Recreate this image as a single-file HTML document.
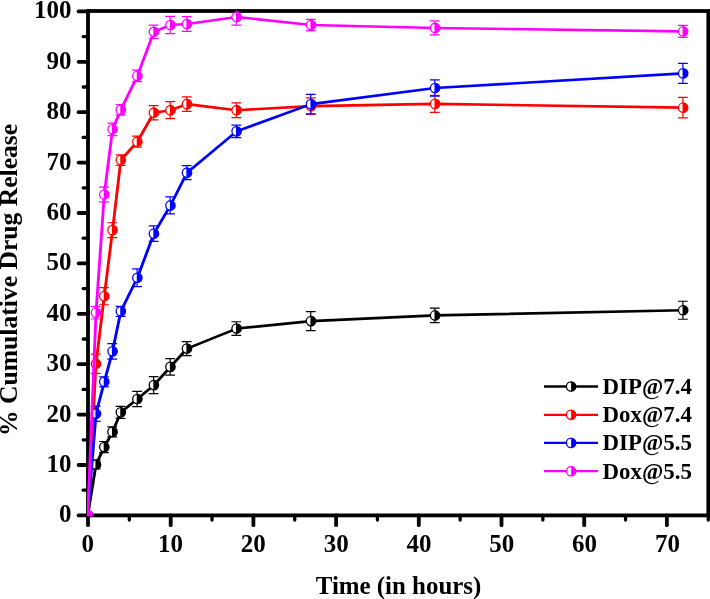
<!DOCTYPE html>
<html lang="en"><head><meta charset="utf-8"><title>Cumulative Drug Release</title>
<style>html,body{margin:0;padding:0;background:#fff}body{width:710px;height:599px;overflow:hidden}svg{display:block}text{font-family:'Liberation Serif','Times New Roman',serif;font-weight:bold;fill:#000}</style></head><body>
<svg width="710" height="599" viewBox="0 0 710 599">
<rect width="710" height="599" fill="#fff"/>
<defs><clipPath id="c"><rect x="87" y="10.5" width="622" height="505.7"/></clipPath></defs>
<g stroke="#000" stroke-width="3.8" fill="none" stroke-linecap="butt">
<rect x="88" y="11" width="620.3" height="504.4"/>
</g>
<g stroke="#000" stroke-width="3.8" stroke-linecap="round">
<line x1="78.6" y1="515.40" x2="88" y2="515.40"/>
<line x1="83.2" y1="490.20" x2="88" y2="490.20" stroke-width="3.3"/>
<line x1="78.6" y1="465.00" x2="88" y2="465.00"/>
<line x1="83.2" y1="439.80" x2="88" y2="439.80" stroke-width="3.3"/>
<line x1="78.6" y1="414.60" x2="88" y2="414.60"/>
<line x1="83.2" y1="389.40" x2="88" y2="389.40" stroke-width="3.3"/>
<line x1="78.6" y1="364.20" x2="88" y2="364.20"/>
<line x1="83.2" y1="339.00" x2="88" y2="339.00" stroke-width="3.3"/>
<line x1="78.6" y1="313.80" x2="88" y2="313.80"/>
<line x1="83.2" y1="288.60" x2="88" y2="288.60" stroke-width="3.3"/>
<line x1="78.6" y1="263.40" x2="88" y2="263.40"/>
<line x1="83.2" y1="238.20" x2="88" y2="238.20" stroke-width="3.3"/>
<line x1="78.6" y1="213.00" x2="88" y2="213.00"/>
<line x1="83.2" y1="187.80" x2="88" y2="187.80" stroke-width="3.3"/>
<line x1="78.6" y1="162.60" x2="88" y2="162.60"/>
<line x1="83.2" y1="137.40" x2="88" y2="137.40" stroke-width="3.3"/>
<line x1="78.6" y1="112.20" x2="88" y2="112.20"/>
<line x1="83.2" y1="87.00" x2="88" y2="87.00" stroke-width="3.3"/>
<line x1="78.6" y1="61.80" x2="88" y2="61.80"/>
<line x1="83.2" y1="36.60" x2="88" y2="36.60" stroke-width="3.3"/>
<line x1="78.6" y1="11.40" x2="88" y2="11.40"/>
<line x1="88.00" y1="515.4" x2="88.00" y2="525.2"/>
<line x1="129.35" y1="515.4" x2="129.35" y2="520.1" stroke-width="3.3"/>
<line x1="170.70" y1="515.4" x2="170.70" y2="525.2"/>
<line x1="212.05" y1="515.4" x2="212.05" y2="520.1" stroke-width="3.3"/>
<line x1="253.40" y1="515.4" x2="253.40" y2="525.2"/>
<line x1="294.75" y1="515.4" x2="294.75" y2="520.1" stroke-width="3.3"/>
<line x1="336.10" y1="515.4" x2="336.10" y2="525.2"/>
<line x1="377.45" y1="515.4" x2="377.45" y2="520.1" stroke-width="3.3"/>
<line x1="418.80" y1="515.4" x2="418.80" y2="525.2"/>
<line x1="460.15" y1="515.4" x2="460.15" y2="520.1" stroke-width="3.3"/>
<line x1="501.50" y1="515.4" x2="501.50" y2="525.2"/>
<line x1="542.85" y1="515.4" x2="542.85" y2="520.1" stroke-width="3.3"/>
<line x1="584.20" y1="515.4" x2="584.20" y2="525.2"/>
<line x1="625.55" y1="515.4" x2="625.55" y2="520.1" stroke-width="3.3"/>
<line x1="666.90" y1="515.4" x2="666.90" y2="525.2"/>
<line x1="708.25" y1="515.4" x2="708.25" y2="520.1" stroke-width="3.3"/>
</g>
<g font-size="25px">
<text x="71.5" y="522.30" text-anchor="end">0</text>
<text x="71.5" y="471.90" text-anchor="end">10</text>
<text x="71.5" y="421.50" text-anchor="end">20</text>
<text x="71.5" y="371.10" text-anchor="end">30</text>
<text x="71.5" y="320.70" text-anchor="end">40</text>
<text x="71.5" y="270.30" text-anchor="end">50</text>
<text x="71.5" y="219.90" text-anchor="end">60</text>
<text x="71.5" y="169.50" text-anchor="end">70</text>
<text x="71.5" y="119.10" text-anchor="end">80</text>
<text x="71.5" y="68.70" text-anchor="end">90</text>
<text x="71.5" y="18.30" text-anchor="end">100</text>
<text x="87.70" y="551.5" text-anchor="middle">0</text>
<text x="170.51" y="551.5" text-anchor="middle">10</text>
<text x="253.33" y="551.5" text-anchor="middle">20</text>
<text x="336.14" y="551.5" text-anchor="middle">30</text>
<text x="418.96" y="551.5" text-anchor="middle">40</text>
<text x="501.77" y="551.5" text-anchor="middle">50</text>
<text x="584.59" y="551.5" text-anchor="middle">60</text>
<text x="667.40" y="551.5" text-anchor="middle">70</text>
</g>
<text x="398.5" y="594.2" font-size="24.9px" text-anchor="middle">Time (in hours)</text>
<text transform="translate(17.2 279.9) rotate(-90)" font-size="25.6px" text-anchor="middle">% Cumulative Drug Release</text>
<g clip-path="url(#c)">
<polyline transform="scale(1.100 1)" points="79.77,515.40 87.29,464.50 94.81,447.11 102.33,431.89 109.85,412.33 124.88,398.98 139.92,385.12 154.95,366.87 169.99,348.58 215.10,328.57 282.76,321.11 395.54,315.41 621.08,310.27" fill="none" stroke="#000000" stroke-width="2.60" stroke-linejoin="round"/>
<g stroke="#000000" stroke-width="1.20">
<path d="M95.72 460.10V468.90M90.82 460.10H100.62M90.82 468.90H100.62" fill="none"/>
<path d="M103.99 441.51V452.71M99.09 441.51H108.89M99.09 452.71H108.89" fill="none"/>
<path d="M112.26 426.89V436.89M107.36 426.89H117.16M107.36 436.89H117.16" fill="none"/>
<path d="M120.53 406.33V418.33M115.63 406.33H125.43M115.63 418.33H125.43" fill="none"/>
<path d="M137.07 391.28V406.68M132.17 391.28H141.97M132.17 406.68H141.97" fill="none"/>
<path d="M153.61 376.62V393.62M148.71 376.62H158.51M148.71 393.62H158.51" fill="none"/>
<path d="M170.15 358.67V375.07M165.25 358.67H175.05M165.25 375.07H175.05" fill="none"/>
<path d="M186.69 341.58V355.58M181.79 341.58H191.59M181.79 355.58H191.59" fill="none"/>
<path d="M236.31 321.77V335.37M231.41 321.77H241.21M231.41 335.37H241.21" fill="none"/>
<path d="M310.74 311.61V330.61M305.84 311.61H315.64M305.84 330.61H315.64" fill="none"/>
<path d="M434.79 308.11V322.71M429.89 308.11H439.69M429.89 322.71H439.69" fill="none"/>
<path d="M682.89 301.27V319.27M677.99 301.27H687.79M677.99 319.27H687.79" fill="none"/>
</g>
<circle cx="87.75" cy="515.40" r="5.35" fill="#000000"/>
<circle cx="96.02" cy="464.50" r="4.70" fill="#fff" stroke="#000000" stroke-width="1.30"/><path d="M95.42 459.83A4.70 4.70 0 1 1 95.42 469.16Z" fill="#000000"/>
<circle cx="104.29" cy="447.11" r="4.70" fill="#fff" stroke="#000000" stroke-width="1.30"/><path d="M103.69 442.45A4.70 4.70 0 1 1 103.69 451.77Z" fill="#000000"/>
<circle cx="112.56" cy="431.89" r="4.70" fill="#fff" stroke="#000000" stroke-width="1.30"/><path d="M111.96 427.23A4.70 4.70 0 1 1 111.96 436.55Z" fill="#000000"/>
<circle cx="120.83" cy="412.33" r="4.70" fill="#fff" stroke="#000000" stroke-width="1.30"/><path d="M120.23 407.67A4.70 4.70 0 1 1 120.23 416.99Z" fill="#000000"/>
<circle cx="137.37" cy="398.98" r="4.70" fill="#fff" stroke="#000000" stroke-width="1.30"/><path d="M136.77 394.31A4.70 4.70 0 1 1 136.77 403.64Z" fill="#000000"/>
<circle cx="153.91" cy="385.12" r="4.70" fill="#fff" stroke="#000000" stroke-width="1.30"/><path d="M153.31 380.45A4.70 4.70 0 1 1 153.31 389.78Z" fill="#000000"/>
<circle cx="170.45" cy="366.87" r="4.70" fill="#fff" stroke="#000000" stroke-width="1.30"/><path d="M169.85 362.21A4.70 4.70 0 1 1 169.85 371.53Z" fill="#000000"/>
<circle cx="186.99" cy="348.58" r="4.70" fill="#fff" stroke="#000000" stroke-width="1.30"/><path d="M186.39 343.91A4.70 4.70 0 1 1 186.39 353.24Z" fill="#000000"/>
<circle cx="236.61" cy="328.57" r="4.70" fill="#fff" stroke="#000000" stroke-width="1.30"/><path d="M236.01 323.91A4.70 4.70 0 1 1 236.01 333.23Z" fill="#000000"/>
<circle cx="311.04" cy="321.11" r="4.70" fill="#fff" stroke="#000000" stroke-width="1.30"/><path d="M310.44 316.45A4.70 4.70 0 1 1 310.44 325.77Z" fill="#000000"/>
<circle cx="435.09" cy="315.41" r="4.70" fill="#fff" stroke="#000000" stroke-width="1.30"/><path d="M434.49 310.75A4.70 4.70 0 1 1 434.49 320.07Z" fill="#000000"/>
<circle cx="683.19" cy="310.27" r="4.70" fill="#fff" stroke="#000000" stroke-width="1.30"/><path d="M682.59 305.61A4.70 4.70 0 1 1 682.59 314.93Z" fill="#000000"/>
<polyline transform="scale(1.100 1)" points="79.77,515.40 87.29,363.70 94.81,296.16 102.33,230.14 109.85,160.08 124.88,141.68 139.92,112.70 154.95,110.18 169.99,104.14 215.10,110.18 282.76,106.15 395.54,103.88 621.08,107.66" fill="none" stroke="#FF0000" stroke-width="2.60" stroke-linejoin="round"/>
<g stroke="#FF0000" stroke-width="1.20">
<path d="M95.72 354.10V373.30M90.82 354.10H100.62M90.82 373.30H100.62" fill="none"/>
<path d="M103.99 287.56V304.76M99.09 287.56H108.89M99.09 304.76H108.89" fill="none"/>
<path d="M112.26 222.74V237.54M107.36 222.74H117.16M107.36 237.54H117.16" fill="none"/>
<path d="M120.53 154.78V165.38M115.63 154.78H125.43M115.63 165.38H125.43" fill="none"/>
<path d="M137.07 136.18V147.18M132.17 136.18H141.97M132.17 147.18H141.97" fill="none"/>
<path d="M153.61 105.60V119.80M148.71 105.60H158.51M148.71 119.80H158.51" fill="none"/>
<path d="M170.15 101.68V118.68M165.25 101.68H175.05M165.25 118.68H175.05" fill="none"/>
<path d="M186.69 96.94V111.34M181.79 96.94H191.59M181.79 111.34H191.59" fill="none"/>
<path d="M236.31 102.78V117.58M231.41 102.78H241.21M231.41 117.58H241.21" fill="none"/>
<path d="M310.74 97.95V114.35M305.84 97.95H315.64M305.84 114.35H315.64" fill="none"/>
<path d="M434.79 95.38V112.38M429.89 95.38H439.69M429.89 112.38H439.69" fill="none"/>
<path d="M682.89 97.36V117.96M677.99 97.36H687.79M677.99 117.96H687.79" fill="none"/>
</g>
<circle cx="87.75" cy="515.40" r="5.35" fill="#FF0000"/>
<circle cx="96.02" cy="363.70" r="4.70" fill="#fff" stroke="#FF0000" stroke-width="1.30"/><path d="M95.42 359.03A4.70 4.70 0 1 1 95.42 368.36Z" fill="#FF0000"/>
<circle cx="104.29" cy="296.16" r="4.70" fill="#fff" stroke="#FF0000" stroke-width="1.30"/><path d="M103.69 291.50A4.70 4.70 0 1 1 103.69 300.82Z" fill="#FF0000"/>
<circle cx="112.56" cy="230.14" r="4.70" fill="#fff" stroke="#FF0000" stroke-width="1.30"/><path d="M111.96 225.47A4.70 4.70 0 1 1 111.96 234.80Z" fill="#FF0000"/>
<circle cx="120.83" cy="160.08" r="4.70" fill="#fff" stroke="#FF0000" stroke-width="1.30"/><path d="M120.23 155.42A4.70 4.70 0 1 1 120.23 164.74Z" fill="#FF0000"/>
<circle cx="137.37" cy="141.68" r="4.70" fill="#fff" stroke="#FF0000" stroke-width="1.30"/><path d="M136.77 137.02A4.70 4.70 0 1 1 136.77 146.35Z" fill="#FF0000"/>
<circle cx="153.91" cy="112.70" r="4.70" fill="#fff" stroke="#FF0000" stroke-width="1.30"/><path d="M153.31 108.04A4.70 4.70 0 1 1 153.31 117.37Z" fill="#FF0000"/>
<circle cx="170.45" cy="110.18" r="4.70" fill="#fff" stroke="#FF0000" stroke-width="1.30"/><path d="M169.85 105.52A4.70 4.70 0 1 1 169.85 114.85Z" fill="#FF0000"/>
<circle cx="186.99" cy="104.14" r="4.70" fill="#fff" stroke="#FF0000" stroke-width="1.30"/><path d="M186.39 99.47A4.70 4.70 0 1 1 186.39 108.80Z" fill="#FF0000"/>
<circle cx="236.61" cy="110.18" r="4.70" fill="#fff" stroke="#FF0000" stroke-width="1.30"/><path d="M236.01 105.52A4.70 4.70 0 1 1 236.01 114.85Z" fill="#FF0000"/>
<circle cx="311.04" cy="106.15" r="4.70" fill="#fff" stroke="#FF0000" stroke-width="1.30"/><path d="M310.44 101.49A4.70 4.70 0 1 1 310.44 110.81Z" fill="#FF0000"/>
<circle cx="435.09" cy="103.88" r="4.70" fill="#fff" stroke="#FF0000" stroke-width="1.30"/><path d="M434.49 99.22A4.70 4.70 0 1 1 434.49 108.55Z" fill="#FF0000"/>
<circle cx="683.19" cy="107.66" r="4.70" fill="#fff" stroke="#FF0000" stroke-width="1.30"/><path d="M682.59 103.00A4.70 4.70 0 1 1 682.59 112.33Z" fill="#FF0000"/>
<polyline transform="scale(1.100 1)" points="79.77,515.40 87.29,413.79 94.81,381.84 102.33,351.35 109.85,311.28 124.88,277.76 139.92,233.66 154.95,205.44 169.99,172.68 215.10,131.35 282.76,104.14 395.54,88.01 621.08,73.39" fill="none" stroke="#0000FF" stroke-width="2.60" stroke-linejoin="round"/>
<g stroke="#0000FF" stroke-width="1.20">
<path d="M95.72 406.19V421.39M90.82 406.19H100.62M90.82 421.39H100.62" fill="none"/>
<path d="M103.99 376.84V386.84M99.09 376.84H108.89M99.09 386.84H108.89" fill="none"/>
<path d="M112.26 343.55V359.15M107.36 343.55H117.16M107.36 359.15H117.16" fill="none"/>
<path d="M120.53 306.28V316.28M115.63 306.28H125.43M115.63 316.28H125.43" fill="none"/>
<path d="M137.07 268.96V286.56M132.17 268.96H141.97M132.17 286.56H141.97" fill="none"/>
<path d="M153.61 225.96V241.36M148.71 225.96H158.51M148.71 241.36H158.51" fill="none"/>
<path d="M170.15 196.94V213.94M165.25 196.94H175.05M165.25 213.94H175.05" fill="none"/>
<path d="M186.69 165.68V179.68M181.79 165.68H191.59M181.79 179.68H191.59" fill="none"/>
<path d="M236.31 125.05V137.65M231.41 125.05H241.21M231.41 137.65H241.21" fill="none"/>
<path d="M310.74 94.34V113.94M305.84 94.34H315.64M305.84 113.94H315.64" fill="none"/>
<path d="M434.79 79.81V96.21M429.89 79.81H439.69M429.89 96.21H439.69" fill="none"/>
<path d="M682.89 63.39V83.39M677.99 63.39H687.79M677.99 83.39H687.79" fill="none"/>
</g>
<circle cx="87.75" cy="515.40" r="5.35" fill="#0000FF"/>
<circle cx="96.02" cy="413.79" r="4.70" fill="#fff" stroke="#0000FF" stroke-width="1.30"/><path d="M95.42 409.13A4.70 4.70 0 1 1 95.42 418.46Z" fill="#0000FF"/>
<circle cx="104.29" cy="381.84" r="4.70" fill="#fff" stroke="#0000FF" stroke-width="1.30"/><path d="M103.69 377.18A4.70 4.70 0 1 1 103.69 386.50Z" fill="#0000FF"/>
<circle cx="112.56" cy="351.35" r="4.70" fill="#fff" stroke="#0000FF" stroke-width="1.30"/><path d="M111.96 346.69A4.70 4.70 0 1 1 111.96 356.01Z" fill="#0000FF"/>
<circle cx="120.83" cy="311.28" r="4.70" fill="#fff" stroke="#0000FF" stroke-width="1.30"/><path d="M120.23 306.62A4.70 4.70 0 1 1 120.23 315.94Z" fill="#0000FF"/>
<circle cx="137.37" cy="277.76" r="4.70" fill="#fff" stroke="#0000FF" stroke-width="1.30"/><path d="M136.77 273.10A4.70 4.70 0 1 1 136.77 282.43Z" fill="#0000FF"/>
<circle cx="153.91" cy="233.66" r="4.70" fill="#fff" stroke="#0000FF" stroke-width="1.30"/><path d="M153.31 229.00A4.70 4.70 0 1 1 153.31 238.33Z" fill="#0000FF"/>
<circle cx="170.45" cy="205.44" r="4.70" fill="#fff" stroke="#0000FF" stroke-width="1.30"/><path d="M169.85 200.78A4.70 4.70 0 1 1 169.85 210.10Z" fill="#0000FF"/>
<circle cx="186.99" cy="172.68" r="4.70" fill="#fff" stroke="#0000FF" stroke-width="1.30"/><path d="M186.39 168.02A4.70 4.70 0 1 1 186.39 177.34Z" fill="#0000FF"/>
<circle cx="236.61" cy="131.35" r="4.70" fill="#fff" stroke="#0000FF" stroke-width="1.30"/><path d="M236.01 126.69A4.70 4.70 0 1 1 236.01 136.01Z" fill="#0000FF"/>
<circle cx="311.04" cy="104.14" r="4.70" fill="#fff" stroke="#0000FF" stroke-width="1.30"/><path d="M310.44 99.47A4.70 4.70 0 1 1 310.44 108.80Z" fill="#0000FF"/>
<circle cx="435.09" cy="88.01" r="4.70" fill="#fff" stroke="#0000FF" stroke-width="1.30"/><path d="M434.49 83.35A4.70 4.70 0 1 1 434.49 92.67Z" fill="#0000FF"/>
<circle cx="683.19" cy="73.39" r="4.70" fill="#fff" stroke="#0000FF" stroke-width="1.30"/><path d="M682.59 68.73A4.70 4.70 0 1 1 682.59 78.05Z" fill="#0000FF"/>
<polyline transform="scale(1.100 1)" points="79.77,515.40 87.29,312.79 94.81,194.50 102.33,129.34 109.85,109.88 124.88,75.91 139.92,31.81 154.95,25.01 169.99,24.00 215.10,16.94 282.76,25.01 395.54,27.93 621.08,31.41" fill="none" stroke="#FF00FF" stroke-width="2.60" stroke-linejoin="round"/>
<g stroke="#FF00FF" stroke-width="1.20">
<path d="M95.72 306.59V318.99M90.82 306.59H100.62M90.82 318.99H100.62" fill="none"/>
<path d="M103.99 187.10V201.90M99.09 187.10H108.89M99.09 201.90H108.89" fill="none"/>
<path d="M112.26 123.14V135.54M107.36 123.14H117.16M107.36 135.54H117.16" fill="none"/>
<path d="M120.53 104.58V115.18M115.63 104.58H125.43M115.63 115.18H125.43" fill="none"/>
<path d="M137.07 70.21V81.61M132.17 70.21H141.97M132.17 81.61H141.97" fill="none"/>
<path d="M153.61 25.11V38.51M148.71 25.11H158.51M148.71 38.51H158.51" fill="none"/>
<path d="M170.15 16.41V33.61M165.25 16.41H175.05M165.25 33.61H175.05" fill="none"/>
<path d="M186.69 16.60V31.40M181.79 16.60H191.59M181.79 31.40H191.59" fill="none"/>
<path d="M236.31 8.84V25.04M231.41 8.84H241.21M231.41 25.04H241.21" fill="none"/>
<path d="M310.74 19.31V30.71M305.84 19.31H315.64M305.84 30.71H315.64" fill="none"/>
<path d="M434.79 20.93V34.93M429.89 20.93H439.69M429.89 34.93H439.69" fill="none"/>
<path d="M682.89 25.41V37.41M677.99 25.41H687.79M677.99 37.41H687.79" fill="none"/>
</g>
<circle cx="87.75" cy="515.40" r="5.35" fill="#FF00FF"/>
<circle cx="96.02" cy="312.79" r="4.70" fill="#fff" stroke="#FF00FF" stroke-width="1.30"/><path d="M95.42 308.13A4.70 4.70 0 1 1 95.42 317.45Z" fill="#FF00FF"/>
<circle cx="104.29" cy="194.50" r="4.70" fill="#fff" stroke="#FF00FF" stroke-width="1.30"/><path d="M103.69 189.84A4.70 4.70 0 1 1 103.69 199.16Z" fill="#FF00FF"/>
<circle cx="112.56" cy="129.34" r="4.70" fill="#fff" stroke="#FF00FF" stroke-width="1.30"/><path d="M111.96 124.67A4.70 4.70 0 1 1 111.96 134.00Z" fill="#FF00FF"/>
<circle cx="120.83" cy="109.88" r="4.70" fill="#fff" stroke="#FF00FF" stroke-width="1.30"/><path d="M120.23 105.22A4.70 4.70 0 1 1 120.23 114.54Z" fill="#FF00FF"/>
<circle cx="137.37" cy="75.91" r="4.70" fill="#fff" stroke="#FF00FF" stroke-width="1.30"/><path d="M136.77 71.25A4.70 4.70 0 1 1 136.77 80.57Z" fill="#FF00FF"/>
<circle cx="153.91" cy="31.81" r="4.70" fill="#fff" stroke="#FF00FF" stroke-width="1.30"/><path d="M153.31 27.15A4.70 4.70 0 1 1 153.31 36.47Z" fill="#FF00FF"/>
<circle cx="170.45" cy="25.01" r="4.70" fill="#fff" stroke="#FF00FF" stroke-width="1.30"/><path d="M169.85 20.35A4.70 4.70 0 1 1 169.85 29.67Z" fill="#FF00FF"/>
<circle cx="186.99" cy="24.00" r="4.70" fill="#fff" stroke="#FF00FF" stroke-width="1.30"/><path d="M186.39 19.34A4.70 4.70 0 1 1 186.39 28.66Z" fill="#FF00FF"/>
<circle cx="236.61" cy="16.94" r="4.70" fill="#fff" stroke="#FF00FF" stroke-width="1.30"/><path d="M236.01 12.28A4.70 4.70 0 1 1 236.01 21.61Z" fill="#FF00FF"/>
<circle cx="311.04" cy="25.01" r="4.70" fill="#fff" stroke="#FF00FF" stroke-width="1.30"/><path d="M310.44 20.35A4.70 4.70 0 1 1 310.44 29.67Z" fill="#FF00FF"/>
<circle cx="435.09" cy="27.93" r="4.70" fill="#fff" stroke="#FF00FF" stroke-width="1.30"/><path d="M434.49 23.27A4.70 4.70 0 1 1 434.49 32.59Z" fill="#FF00FF"/>
<circle cx="683.19" cy="31.41" r="4.70" fill="#fff" stroke="#FF00FF" stroke-width="1.30"/><path d="M682.59 26.75A4.70 4.70 0 1 1 682.59 36.07Z" fill="#FF00FF"/>
</g>
<line x1="544" y1="386.50" x2="598" y2="386.50" stroke="#000000" stroke-width="2.3"/>
<circle cx="571.10" cy="386.50" r="4.70" fill="#fff" stroke="#000000" stroke-width="1.30"/><path d="M571.10 381.80A4.70 4.70 0 1 1 571.10 391.20Z" fill="#000000"/>
<text x="602.6" y="393.80" font-size="22.9px">DIP@7.4</text>
<line x1="544" y1="414.80" x2="598" y2="414.80" stroke="#FF0000" stroke-width="2.3"/>
<circle cx="571.10" cy="414.80" r="4.70" fill="#fff" stroke="#FF0000" stroke-width="1.30"/><path d="M571.10 410.10A4.70 4.70 0 1 1 571.10 419.50Z" fill="#FF0000"/>
<text x="602.6" y="422.10" font-size="22.9px">Dox@7.4</text>
<line x1="544" y1="442.90" x2="598" y2="442.90" stroke="#0000FF" stroke-width="2.3"/>
<circle cx="571.10" cy="442.90" r="4.70" fill="#fff" stroke="#0000FF" stroke-width="1.30"/><path d="M571.10 438.20A4.70 4.70 0 1 1 571.10 447.60Z" fill="#0000FF"/>
<text x="602.6" y="450.20" font-size="22.9px">DIP@5.5</text>
<line x1="544" y1="471.20" x2="598" y2="471.20" stroke="#FF00FF" stroke-width="2.3"/>
<circle cx="571.10" cy="471.20" r="4.70" fill="#fff" stroke="#FF00FF" stroke-width="1.30"/><path d="M571.10 466.50A4.70 4.70 0 1 1 571.10 475.90Z" fill="#FF00FF"/>
<text x="602.6" y="478.50" font-size="22.9px">Dox@5.5</text>
</svg></body></html>
